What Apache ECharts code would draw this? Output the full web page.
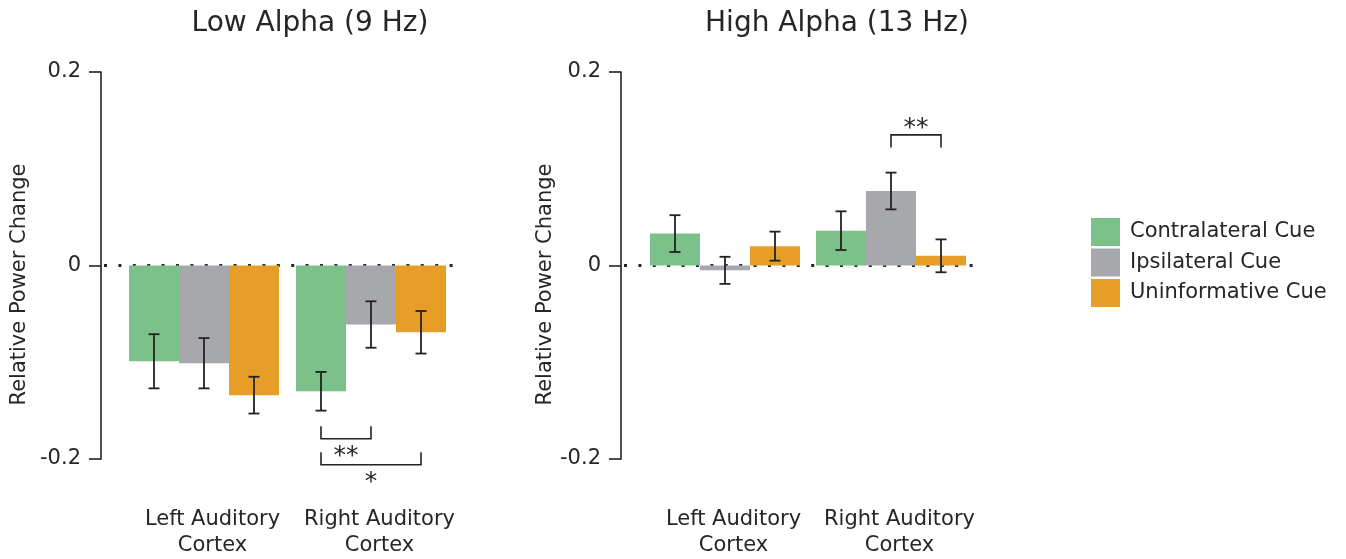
<!DOCTYPE html>
<html><head><meta charset="utf-8">
<script src="https://cdn.jsdelivr.net/npm/echarts@6/dist/echarts.min.js"></script>
<style>html,body{margin:0;padding:0;background:#fff}#c{width:1346px;height:559px}</style>
</head><body><div id="c"></div>
<script>
// ---- data ----
const categories = ['Left Auditory\nCortex', 'Right Auditory\nCortex'];
const conditions = ['Contralateral Cue', 'Ipsilateral Cue', 'Uninformative Cue'];
const panelTitles = ['Low Alpha (9 Hz)', 'High Alpha (13 Hz)'];
const yAxisName = 'Relative Power Change';
const yTickValues = [-0.2, 0, 0.2];

// Low alpha (9 Hz)
const lowContra = [-0.099, -0.130];
const lowIpsi   = [-0.101, -0.061];
const lowUninf  = [-0.134, -0.069];
const lowContraErr = [0.028, 0.020];
const lowIpsiErr   = [0.026, 0.024];
const lowUninfErr  = [0.019, 0.022];

// High alpha (13 Hz)
const highContra = [0.033, 0.036];
const highIpsi   = [-0.005, 0.077];
const highUninf  = [0.020, 0.010];
const highContraErr = [0.019, 0.020];
const highIpsiErr   = [0.014, 0.019];
const highUninfErr  = [0.015, 0.017];

// significance brackets: [category, condition A, condition B, level, label]
const lowSig  = [[1, 0, 1, -0.179, '**'], [1, 0, 2, -0.206, '*']];
const highSig = [[1, 1, 2, 0.135, '**']];

// ---- style ----
const FONT = 'DejaVu Sans';
const INK = '#262626';
const COLORS = ['#7cc08a', '#a6a8ab', '#e69e27'];
const BAR_W = 50;
const AXIS_OFFSETS = [19.5, 21];

const panels = [
  {vals: [lowContra, lowIpsi, lowUninf], errs: [lowContraErr, lowIpsiErr, lowUninfErr], sig: lowSig},
  {vals: [highContra, highIpsi, highUninf], errs: [highContraErr, highIpsiErr, highUninfErr], sig: highSig}
];

const series = [];
panels.forEach((p, pi) => {
  // zero dotted line (behind bars)
  series.push({
    type: 'custom', xAxisIndex: pi, yAxisIndex: pi, z: 1, silent: true,
    data: [[0, 0]],
    renderItem: (params, api) => {
      const cs = params.coordSys;
      const y = api.coord([0, 0])[1];
      return {type: 'line', shape: {x1: cs.x - AXIS_OFFSETS[pi] + 3, y1: y, x2: cs.x + cs.width + 8, y2: y},
        style: {stroke: INK, lineWidth: 3, lineDash: [3, 11.4]}};
    }
  });
  p.vals.forEach((v, ci) => {
    series.push({
      type: 'bar', name: conditions[ci], xAxisIndex: pi, yAxisIndex: pi, z: 2,
      data: v, barWidth: BAR_W, barGap: '0%',
      itemStyle: {color: COLORS[ci]}, emphasis: {disabled: true}
    });
  });
  p.vals.forEach((v, ci) => {
    const errs = p.errs[ci];
    series.push({
      type: 'custom', xAxisIndex: pi, yAxisIndex: pi, z: 5, silent: true,
      data: v.map((val, i) => [i, val - errs[i], val + errs[i]]),
      renderItem: (params, api) => {
        const lo = api.coord([api.value(0), api.value(1)]);
        const hi = api.coord([api.value(0), api.value(2)]);
        const x = lo[0] + (ci - 1) * BAR_W;
        const st = {stroke: '#222', lineWidth: 1.8};
        return {type: 'group', children: [
          {type: 'line', shape: {x1: x, y1: lo[1], x2: x, y2: hi[1]}, style: st},
          {type: 'line', shape: {x1: x - 5.5, y1: lo[1], x2: x + 5.5, y2: lo[1]}, style: st},
          {type: 'line', shape: {x1: x - 5.5, y1: hi[1], x2: x + 5.5, y2: hi[1]}, style: st}
        ]};
      }
    });
  });
  // significance brackets
  series.push({
    type: 'custom', xAxisIndex: pi, yAxisIndex: pi, z: 5, silent: true,
    data: p.sig.map(s => [s[0], s[1], s[2], s[3]]),
    renderItem: (params, api) => {
      const s = p.sig[params.dataIndex];
      const c = api.coord([s[0], s[3]]);
      const xa = c[0] + (s[1] - 1) * BAR_W;
      const xb = c[0] + (s[2] - 1) * BAR_W;
      const y = c[1];
      const dir = s[3] < 0 ? -1 : 1; // ticks point toward the bars
      const tick = 12.5;
      return {type: 'group', children: [
        {type: 'polyline', shape: {points: [[xa, y + dir * tick], [xa, y], [xb, y], [xb, y + dir * tick]]},
          style: {stroke: '#222', lineWidth: 1.6, fill: 'none'}},
        {type: 'text', x: (xa + xb) / 2, y: dir < 0 ? y + 18 : y - 6,
          style: {text: s[4], font: '25px "' + FONT + '"', fill: INK, align: 'center', verticalAlign: 'middle'}}
      ]};
    }
  });
});

const grids = [
  {left: 120.5, top: 72, width: 334, height: 391},
  {left: 642, top: 72, width: 332, height: 391}
];

const option = {
  animation: false,
  backgroundColor: '#fff',
  textStyle: {fontFamily: FONT, color: INK},
  title: [
    {text: panelTitles[0], left: 305, top: 5, textAlign: 'center', textStyle: {fontSize: 28, fontWeight: 'normal', fontFamily: FONT, color: INK}},
    {text: panelTitles[1], left: 832, top: 5, textAlign: 'center', textStyle: {fontSize: 28, fontWeight: 'normal', fontFamily: FONT, color: INK}}
  ],
  legend: {
    data: conditions, orient: 'vertical', left: 1091, top: 218, padding: 0,
    itemWidth: 29, itemHeight: 28, itemGap: 2.5, icon: 'rect', selectedMode: false,
    textStyle: {fontSize: 21, fontFamily: FONT, color: INK, padding: [0, 0, 0, 5]}
  },
  grid: grids,
  xAxis: grids.map((g, i) => ({
    type: 'category', gridIndex: i, data: categories,
    axisLine: {show: false}, axisTick: {show: false}, splitLine: {show: false},
    axisLabel: {fontSize: 21, fontFamily: FONT, color: INK, lineHeight: 26, margin: 48, padding: [0, 0, 0, 17], interval: 0}
  })),
  yAxis: grids.map((g, i) => ({
    type: 'value', gridIndex: i, min: yTickValues[0], max: yTickValues[yTickValues.length - 1], interval: 0.2,
    offset: AXIS_OFFSETS[i],
    name: yAxisName, nameLocation: 'middle', nameGap: i === 0 ? 71 : 65,
    nameTextStyle: {fontSize: 21, fontFamily: FONT, color: INK, padding: [0, 38, 0, 0]},
    axisLine: {show: true, lineStyle: {color: '#222', width: 1.6}},
    axisTick: {show: true, inside: false, length: 12, lineStyle: {color: '#222', width: 1.6}},
    axisLabel: {fontSize: 21, fontFamily: FONT, color: INK, margin: 20},
    splitLine: {show: false}
  })),
  series: series
};

const chart = echarts.init(document.getElementById('c'), null, {renderer: 'canvas'});
chart.setOption(option);
</script>
</body></html>
